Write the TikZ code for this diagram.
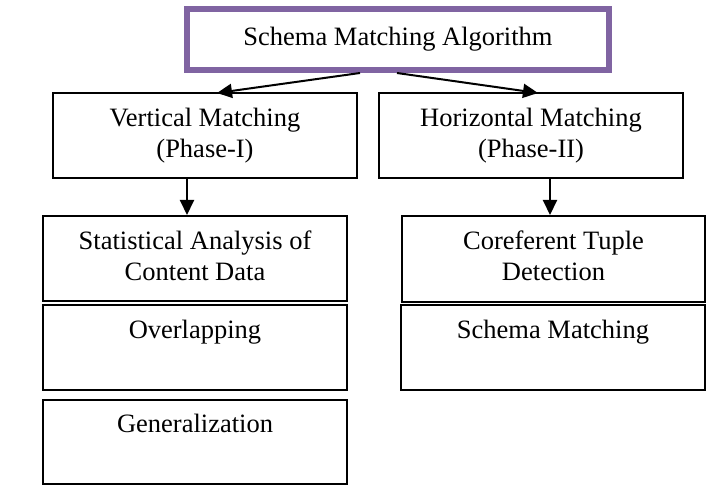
\documentclass[tikz,border=0pt]{standalone}
\usepackage{fontspec}
\setmainfont{Liberation Serif}
\usetikzlibrary{arrows.meta}
\definecolor{boxpurple}{HTML}{8064A2}
\tikzset{
  blk/.style={draw=black, line width=2pt, rectangle, inner sep=0pt, align=center,
    minimum width=304pt, minimum height=85pt, font=\fontsize{26.5}{31}\selectfont},
  topbox/.style={draw=boxpurple, line width=6pt, rectangle, inner sep=0pt, align=center,
    minimum width=422pt, minimum height=61pt, font=\fontsize{26.5}{31}\selectfont},
  arr/.style={line width=2pt, -{Triangle[length=15pt,width=14pt]}}
}
\begin{document}
\begin{tikzpicture}[x=1pt,y=-1pt]
\useasboundingbox (0,0) rectangle (715,497);
\node[topbox] (top) at (398,39.5) {\raisebox{-2pt}{Schema Matching Algorithm}};
\node[blk] (vert) at (205,135.5) {\strut Vertical Matching\\\strut (Phase-I)};
\node[blk] (horiz) at (531,135.5) {\strut Horizontal Matching\\\strut (Phase-II)};
\node[blk] (stat) at (195,258.5) {\strut Statistical Analysis of\\\strut Content Data};
\node[blk] (over) at (195,347.5) {\strut Overlapping\\\strut};
\node[blk, minimum height=84pt] (gen) at (195,442) {\strut Generalization\\\strut};
\node[blk, minimum width=303pt, minimum height=86pt] (coref) at (553.5,259) {\strut Coreferent Tuple\\\strut Detection};
\node[blk] (sm) at (553,347.5) {\strut Schema Matching\\\strut};
\draw[arr] ([xshift=-38pt]top.south) -- ([xshift=12pt,yshift=-1pt]vert.north);
\draw[arr] ([xshift=-1pt]top.south) -- ([xshift=7pt,yshift=-1pt]horiz.north);
\draw[arr] ([xshift=-18pt]vert.south) -- ([xshift=-8pt]stat.north);
\draw[arr] ([xshift=19pt]horiz.south) -- ([xshift=-3.5pt]coref.north);
\end{tikzpicture}
\end{document}
